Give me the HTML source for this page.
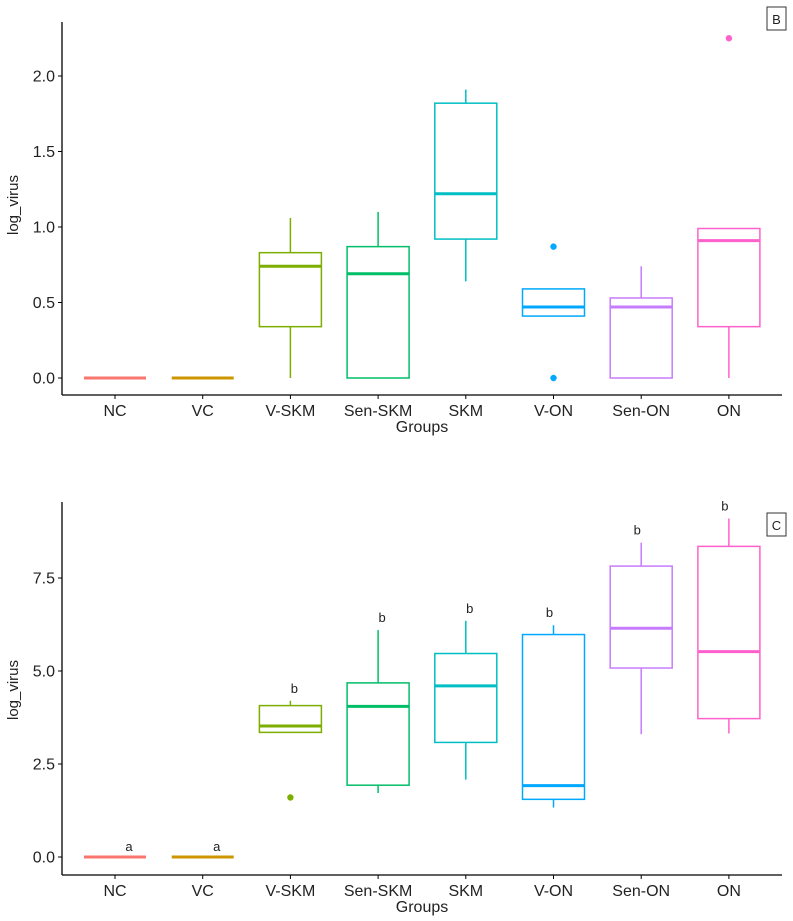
<!DOCTYPE html>
<html><head><meta charset="utf-8"><style>
body{margin:0;background:#fff}
svg{display:block;font-family:"Liberation Sans",Arial,sans-serif}
</style></head><body>
<svg id="chart" width="793" height="921"></svg>
<script>
const groups=["NC","VC","V-SKM","Sen-SKM","SKM","V-ON","Sen-ON","ON"];
const colors=["#F8766D","#CD9600","#7CAE00","#00BE67","#00BFC4","#00A9FF","#C77CFF","#FF61CC"];
// Panel B
const bMin=[0,0,0,0,0.64,0.41,0,0];
const bQ1=[0,0,0.34,0,0.92,0.41,0,0.34];
const bMed=[0,0,0.74,0.69,1.22,0.47,0.47,0.91];
const bQ3=[0,0,0.83,0.87,1.82,0.59,0.53,0.99];
const bMax=[0,0,1.06,1.10,1.91,0.59,0.74,0.99];
const bOut=[[],[],[],[],[],[0.87,0],[],[2.25]];
const bTicks=[0,0.5,1.0,1.5,2.0];
// Panel C
const cMin=[0,0,3.35,1.72,2.08,1.33,3.30,3.32];
const cQ1=[0,0,3.35,1.93,3.08,1.55,5.08,3.72];
const cMed=[0,0,3.52,4.05,4.60,1.92,6.15,5.52];
const cQ3=[0,0,4.07,4.68,5.47,5.98,7.82,8.35];
const cMax=[0,0,4.20,6.10,6.35,6.23,8.45,9.10];
const cOut=[[],[],[1.6],[],[],[],[],[]];
const cLetters=["a","a","b","b","b","b","b","b"];
const cTicks=[0,2.5,5.0,7.5];

const NS="http://www.w3.org/2000/svg";
const svg=document.getElementById('chart');
function mk(tag,attrs,parent,text){const e=document.createElementNS(NS,tag);for(const k in attrs)e.setAttribute(k,attrs[k]);if(text!==undefined)e.textContent=text;(parent||svg).appendChild(e);return e;}
function xPos(i){return 115+i*87.7;}

function panel(p){
  const g=mk('g',{});
  
  
  const y=v=>p.y0+(v-0)*(p.y1-p.y0)/(p.v1);
  const ya=mk('line',{x1:62,x2:62,y1:p.top,y2:p.axisY,stroke:'#000','stroke-width':1.3},g);
  
  const xa=mk('line',{x1:62,x2:782,y1:p.axisY,y2:p.axisY,stroke:'#000','stroke-width':1.3},g);
  
  p.ticks.forEach(t=>{
    mk('line',{x1:58,x2:62,y1:y(t),y2:y(t),stroke:'#000'},g);
    const tl=mk('text',{x:55,y:y(t)+5.5,'text-anchor':'end','font-size':16,fill:'#222'},g,t.toFixed(1));
    
  });
  groups.forEach((n,i)=>{
    const x=xPos(i);
    mk('line',{x1:x,x2:x,y1:p.axisY,y2:p.axisY+4,stroke:'#000'},g);
    const tl=mk('text',{x:x,y:p.axisY+21,'text-anchor':'middle','font-size':16,fill:'#222'},g,n);
    
    const bg=mk('g',{},g);
    
    
    const c=colors[i],w=31;
    mk('line',{x1:x,x2:x,y1:y(p.max[i]),y2:y(p.q3[i]),stroke:c,'stroke-width':1.5},bg);
    mk('line',{x1:x,x2:x,y1:y(p.q1[i]),y2:y(p.min[i]),stroke:c,'stroke-width':1.5},bg);
    if(p.q3[i]>p.q1[i]) mk('rect',{x:x-w,y:y(p.q3[i]),width:2*w,height:y(p.q1[i])-y(p.q3[i]),fill:'none',stroke:c,'stroke-width':1.5},bg);
    mk('line',{x1:x-w,x2:x+w,y1:y(p.med[i]),y2:y(p.med[i]),stroke:c,'stroke-width':3},bg);
    p.out[i].forEach(o=>{mk('circle',{cx:x,cy:y(o),r:3.2,fill:c},bg);});
    if(p.letters){
      const ly=p.max[i]>0?y(p.max[i])-8:y(0)-6;
      const lt=mk('text',{x:x+(i<2?14:(i<5?4:-4)),y:ly,'text-anchor':'middle','font-size':13,fill:'#222'},g,p.letters[i]);
      
    }
  });
  const xt=mk('text',{x:422,y:p.axisY+37,'text-anchor':'middle','font-size':16,fill:'#222'},g,'Groups');
  
  const yt=mk('text',{x:0,y:0,transform:`translate(18,${p.ytY}) rotate(-90)`,'text-anchor':'middle','font-size':15,fill:'#222'},g,'log_virus');
  
  const lb=mk('rect',{x:767,y:p.labY,width:19,height:23,fill:'#fff',stroke:'#333'},g);
  
  const lt=mk('text',{x:776.5,y:p.labY+17,'text-anchor':'middle','font-size':13,fill:'#222'},g,p.label);
  
}
panel({name:'panel-b',top:22,axisY:395,y0:378,y1:76,v1:2.0,ticks:bTicks,min:bMin,q1:bQ1,med:bMed,q3:bQ3,max:bMax,out:bOut,ytY:205,label:'B',labY:7});
panel({name:'panel-c',top:502,axisY:875,y0:857,y1:578,v1:7.5,ticks:cTicks,min:cMin,q1:cQ1,med:cMed,q3:cQ3,max:cMax,out:cOut,letters:cLetters,ytY:690,label:'C',labY:513});
</script>
</body></html>
